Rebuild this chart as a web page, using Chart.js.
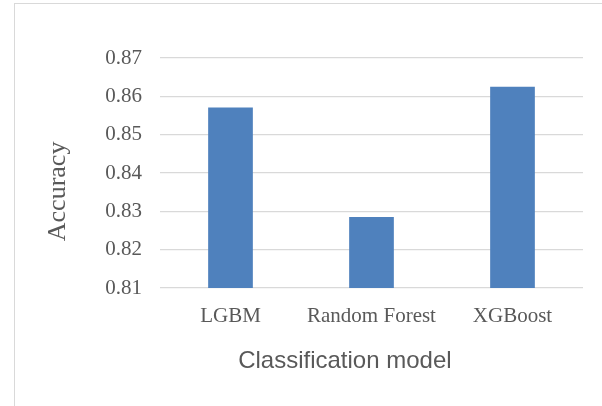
<!DOCTYPE html>
<html>
<head>
<meta charset="utf-8">
<script src="https://cdn.jsdelivr.net/npm/chart.js@4.4.0/dist/chart.umd.min.js"></script>
<style>
    html, body { margin: 0; padding: 0; background: #fff; overflow: hidden; }
    #wrap { position: relative; width: 602px; height: 406px; }
    #frame { position: absolute; left: 14px; top: 3px; width: 640px; height: 440px; border: 1.5px solid #d9d9d9; box-sizing: border-box; }
    #myChart { position: absolute; left: 0; top: 0; }
</style>
</head>
<body>
<div id="wrap">
    <div id="frame"></div>
    <canvas id="myChart" width="602" height="406"></canvas>
</div>
<script>
const models = ['LGBM', 'Random Forest', 'XGBoost'];
const accuracy = [0.8571, 0.8285, 0.8625];
const yTicks = [0.81, 0.82, 0.83, 0.84, 0.85, 0.86, 0.87];
const xTitle = 'Classification model';
const yTitle = 'Accuracy';

document.addEventListener('DOMContentLoaded', () => {
    // axis titles are drawn by hand so they can sit where the original has them
    const axisTitles = {
        id: 'axisTitles',
        afterDraw(chart) {
            const c = chart.ctx;
            const area = chart.chartArea;
            c.save();
            c.fillStyle = '#595959';
            c.textAlign = 'center';
            c.textBaseline = 'middle';
            c.font = '24px "Liberation Sans", Arial, sans-serif';
            c.fillText(xTitle, area.left + (area.right - area.left) * 0.437, area.bottom + 73);
            c.translate(58, area.top + (area.bottom - area.top) * 0.58);
            c.rotate(-Math.PI / 2);
            c.font = '26px "Liberation Serif", "Times New Roman", serif';
            c.fillText(yTitle, 0, 0);
            c.restore();
        }
    };

    const ctx = document.getElementById('myChart').getContext('2d');
    const myChart = new Chart(ctx, {
        type: 'bar',
        data: {
            labels: models,
            datasets: [{
                label: yTitle,
                data: accuracy,
                backgroundColor: '#4F81BD',
                borderWidth: 0,
                barPercentage: 0.317,
                categoryPercentage: 1
            }]
        },
        options: {
            responsive: false,
            animation: false,
            devicePixelRatio: 1,
            layout: { padding: { left: 0, right: 19, top: 58, bottom: 0 } },
            plugins: {
                legend: { display: false },
                tooltip: { enabled: false }
            },
            scales: {
                x: {
                    grid: { display: false },
                    border: { display: false },
                    ticks: {
                        color: '#595959',
                        padding: 8,
                        font: { family: '"Liberation Serif", "Times New Roman", serif', size: 21 }
                    },
                    afterFit: (scale) => { scale.height = 406 - 288; }
                },
                y: {
                    min: yTicks[0],
                    max: yTicks[yTicks.length - 1],
                    afterBuildTicks: (scale) => { scale.ticks = yTicks.map(v => ({ value: v })); },
                    grid: { color: '#d9d9d9', lineWidth: 1.3, drawTicks: false },
                    border: { display: false },
                    ticks: {
                        color: '#595959',
                        padding: 18,
                        font: { family: '"Liberation Serif", "Times New Roman", serif', size: 21 },
                        callback: (v) => Number(v).toFixed(2)
                    },
                    afterFit: (scale) => { scale.width = 160; }
                }
            }
        },
        plugins: [axisTitles]
    });
});
</script>
</body>
</html>
